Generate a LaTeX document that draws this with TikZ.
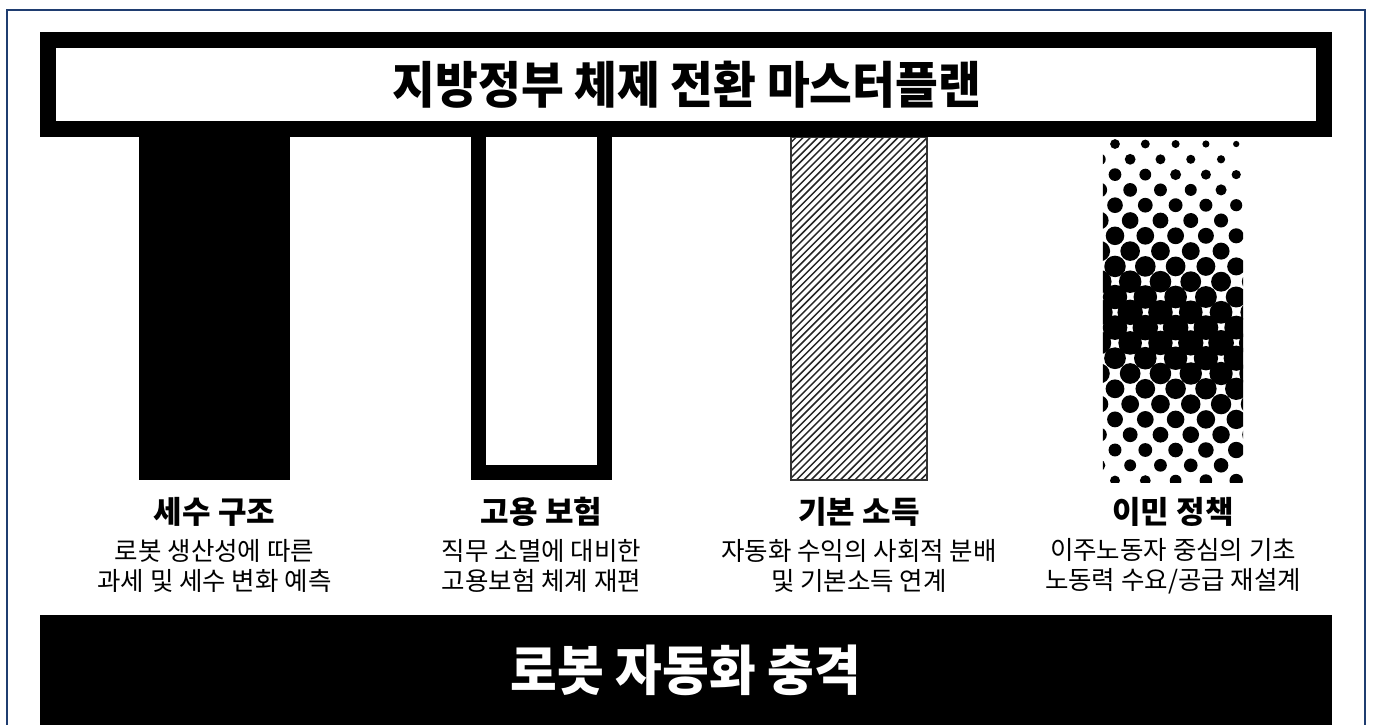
\documentclass[tikz,border=0pt]{standalone}
\usepackage{fontspec}
\newfontfamily\krfont{Noto Sans CJK KR}
\newfontfamily\krcond[FakeStretch=0.93]{Noto Sans CJK KR}
\newfontfamily\krcondb[FakeStretch=0.94]{Noto Sans CJK KR}
\definecolor{navy}{HTML}{1F3D70}
\begin{document}
\begin{tikzpicture}[x=1pt,y=-1pt,
  bannerbox/.style={draw=black,line width=16pt,fill=white,minimum width=1276pt,minimum height=89pt,inner sep=0pt},
  solidpillar/.style={fill=black,inner sep=0pt},
  framepillar/.style={draw=black,line width=15pt,fill=white,inner sep=0pt},
  pillartitle/.style={font=\krfont\bfseries\fontsize{31}{36}\selectfont,inner sep=0pt},
  pillardesc/.style={font=\krfont\fontsize{25.5}{30}\selectfont,align=center,inner sep=0pt},
]
\useasboundingbox (0,0) rectangle (1373,724);
\fill[white] (0,0) rectangle (1373,724);
\begin{scope}
\clip (0,0) rectangle (1373,724);
\draw[navy,line width=2pt] (7,10) rectangle (1365,740);
\end{scope}

% pillar 1: solid
\node[solidpillar,minimum width=151pt,minimum height=350pt] (p1) at (214.5,305) {};
% pillar 2: frame
\node[framepillar,minimum width=126pt,minimum height=343.5pt] (p2) at (541.5,301) {};
% pillar 3: hatched
\node[inner sep=0pt,minimum width=136pt,minimum height=343pt] (p3) at (859,308.5) {};
\begin{scope}
\clip (p3.north west) rectangle (p3.south east);
\foreach \c in {0,...,66}{
  \draw[black!85,line width=1.5pt] ({791-350+7.3*\c},485) -- ({791-350+7.3*\c+350},135);
}
\end{scope}
\draw[black!80,line width=1.5pt] (p3.north west) rectangle (p3.south east);
% pillar 4: halftone dots
\node[inner sep=0pt,minimum width=140pt,minimum height=345pt] (p4) at (1173,309.5) {};
\begin{scope}
\clip (p4.north west) rectangle (p4.south east);
\foreach \k in {0,...,22}{
  \pgfmathsetmacro\yy{144+15.3*\k}
  \pgfmathsetmacro\off{mod(\k,2)*15.15}
  \foreach \i in {-1,...,5}{
    \pgfmathsetmacro\xx{1115+\off+30.3*\i}
    \pgfmathsetmacro\dd{abs((-0.3*(\xx-1170)+(\yy-330))/1.044)}
    \pgfmathsetmacro\rr{max(0.8,13-0.05*\dd)}
    \fill[black] (\xx,\yy) circle[radius=\rr pt];
  }
}
\end{scope}

% top banner
\node[bannerbox] (title) at (686,84.5) {};
\node[font=\krcond\bfseries\fontsize{50}{60}\selectfont,inner sep=0pt] (titletext) at (687,84.5) {지방정부 체제 전환 마스터플랜};

% labels
\node[pillartitle] (t1) at (214.5,512) {세수 구조};
\node[pillartitle] (t2) at (541.5,512) {고용 보험};
\node[pillartitle] (t3) at (859,512) {기본 소득};
\node[pillartitle] (t4) at (1173,512) {이민 정책};
\node[pillardesc] (d1) at (214.5,566) {로봇 생산성에 따른\\과세 및 세수 변화 예측};
\node[pillardesc] (d2) at (541.5,566) {직무 소멸에 대비한\\고용보험 체계 재편};
\node[pillardesc] (d3) at (859,566) {자동화 수익의 사회적 분배\\및 기본소득 연계};
\node[pillardesc] (d4) at (1173,566) {이주노동자 중심의 기초\\노동력 수요/공급 재설계};

% bottom banner
\node[fill=black,inner sep=0pt,minimum width=1292pt,minimum height=120pt] (impact) at (686,675) {};
\node[text=white,font=\krcondb\bfseries\fontsize{54}{64}\selectfont,inner sep=0pt] (impacttext) at (686,670) {로봇 자동화 충격};
\end{tikzpicture}
\end{document}
